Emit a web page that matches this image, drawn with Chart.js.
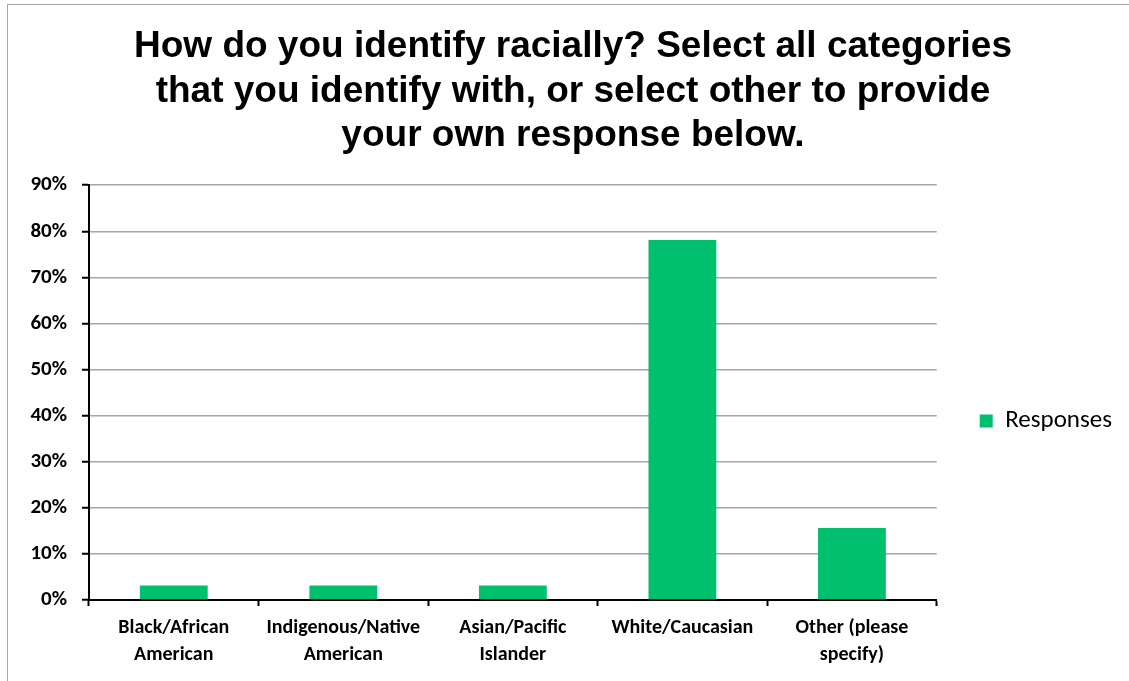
<!DOCTYPE html>
<html>
<head>
<meta charset="utf-8">
<script src="https://cdn.jsdelivr.net/npm/chart.js@4/dist/chart.umd.min.js"></script>
<style>
  html, body { margin: 0; padding: 0; background: #fff; }
  #wrap { position: relative; width: 1129px; height: 681px; overflow: hidden; }
  #frame { position: absolute; left: 7px; top: 4px; width: 1140px; height: 700px;
           border: 1px solid #a6a6a6; box-sizing: border-box; }
  canvas { position: absolute; left: 0; top: 0; }
</style>
</head>
<body>
<div id="wrap">
  <div id="frame"></div>
  <canvas id="chart" width="1129" height="681"></canvas>
</div>
<script>
var categories = [
  ["Black/African", "American"],
  ["Indigenous/Native", "American"],
  ["Asian/Pacific", "Islander"],
  "White/Caucasian",
  ["Other (please", "specify)"]
];
var responses = [0.03125, 0.03125, 0.03125, 0.78125, 0.15625];
var titleLines = [
  "How do you identify racially? Select all categories",
  "that you identify with, or select other to provide",
  "your own response below."
];

var labelFont = "Carlito, Calibri, Lato, sans-serif";

var ctx = document.getElementById("chart");
var chart = new Chart(ctx, {
  type: "bar",
  data: {
    labels: categories,
    datasets: [{
      label: "Responses",
      data: responses,
      backgroundColor: "#00bf6f",
      borderWidth: 0,
      categoryPercentage: 1.0,
      barPercentage: 0.4
    }]
  },
  options: {
    responsive: false,
    animation: false,
    layout: { padding: { top: 25, right: 7, left: 24, bottom: 0 } },
    plugins: {
      title: {
        display: true,
        text: titleLines,
        color: "#000",
        font: { family: "'Liberation Sans', Arial, sans-serif", size: 37, weight: "bold", lineHeight: 1.2 },
        padding: { top: 0, bottom: 27 }
      },
      legend: {
        position: "right",
        // blank legend title pushes the single entry down below the middle
        title: {
          display: true,
          text: "",
          font: { size: 10, lineHeight: 1.2 },
          padding: { top: 124, bottom: 0 }
        },
        labels: {
          boxWidth: 13,
          boxHeight: 13,
          color: "#000",
          font: { family: labelFont, size: 25 },
          padding: 10
        }
      },
      tooltip: { enabled: false }
    },
    scales: {
      x: {
        offset: true,
        grid: {
          offset: true,
          drawOnChartArea: false,
          drawTicks: true,
          tickLength: 6,
          tickColor: "#000",
          tickWidth: 2
        },
        border: { color: "#000", width: 2 },
        ticks: {
          color: "#000",
          maxRotation: 0,
          autoSkip: false,
          padding: 8,
          font: { family: labelFont, size: 20, weight: "bold", lineHeight: 1.35 }
        },
        afterFit: function (scale) { scale.height = 81; }
      },
      y: {
        min: 0,
        max: 0.9,
        ticks: {
          stepSize: 0.1,
          color: "#000",
          padding: 15,
          font: { family: labelFont, size: 21, weight: "bold" },
          callback: function (v) { return Math.round(v * 100) + "%"; }
        },
        grid: {
          color: "#a6a6a6",
          lineWidth: 1.5,
          tickLength: 7,
          tickColor: "#000",
          tickWidth: 2
        },
        border: { color: "#000", width: 2 },
        afterFit: function (scale) { scale.width = 65; }
      },
      // empty axis on the right, keeps a gap between the plot and the legend
      gap: {
        type: "linear",
        position: "right",
        display: true,
        ticks: { display: false },
        grid: { display: false },
        border: { display: false },
        afterFit: function (scale) { scale.width = 33; }
      }
    }
  }
});
</script>
</body>
</html>
